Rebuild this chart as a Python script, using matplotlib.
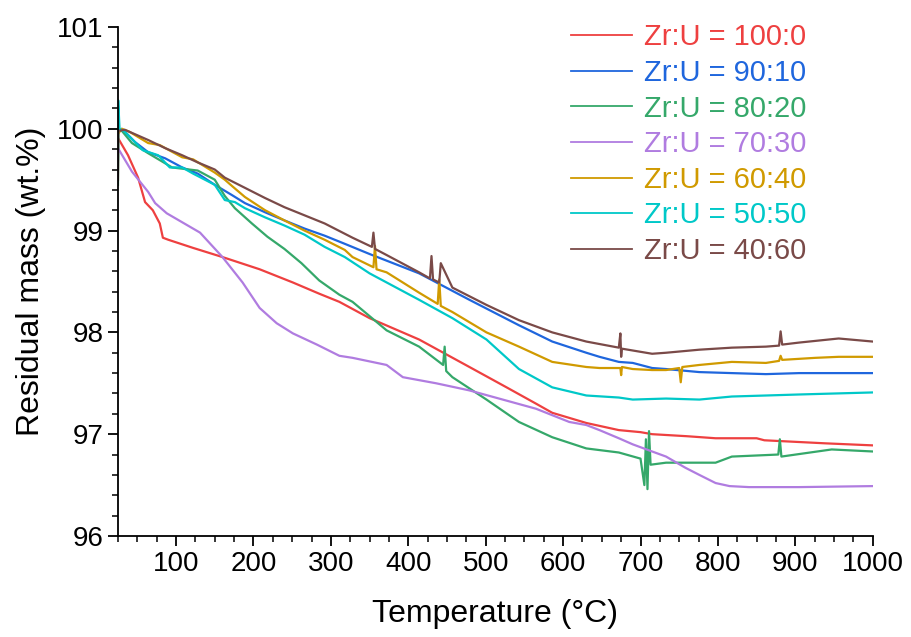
import matplotlib
matplotlib.use('Agg')
import matplotlib.pyplot as plt
from matplotlib.ticker import MultipleLocator

plt.rcParams['font.family'] = ['Liberation Sans', 'DejaVu Sans']

# values (temperature in degC, residual mass in wt.%)
t_100_0 = [25, 38, 51, 60, 70, 79, 83, 90, 122, 160, 208, 251, 285, 311, 350, 414, 479,
           527, 565, 586, 630, 672, 700, 715, 760, 797, 850, 860, 939, 1000]
m_100_0 = [99.91, 99.74, 99.52, 99.28, 99.20, 99.07, 98.93, 98.91, 98.83, 98.74, 98.62, 98.49,
           98.38, 98.30, 98.14, 97.93, 97.66, 97.46, 97.30, 97.21, 97.11, 97.04, 97.02, 97.00,
           96.98, 96.96, 96.96, 96.94, 96.91, 96.89]

t_90_10 = [25, 30, 47, 64, 86, 108, 128, 150, 172, 189, 215, 240, 266, 292, 318, 350, 414,
           479, 543, 586, 630, 647, 672, 690, 715, 733, 776, 818, 862, 905, 1000]
m_90_10 = [99.97, 100.0, 99.87, 99.77, 99.71, 99.62, 99.56, 99.45, 99.35, 99.27, 99.18, 99.10,
           99.02, 98.95, 98.87, 98.77, 98.58, 98.32, 98.07, 97.91, 97.80, 97.76, 97.71, 97.70,
           97.65, 97.64, 97.61, 97.60, 97.59, 97.60, 97.60]

t_80_20 = [25, 25.5, 30, 43, 64, 95, 128, 150, 163, 176, 198, 218, 240, 262, 285, 311, 328,
           372, 414, 445, 447, 449, 457, 501, 543, 586, 630, 672, 700, 705, 707, 709, 711, 713,
           733, 797, 818, 878, 880, 882, 947, 1000]
m_80_20 = [99.45, 99.98, 99.98, 99.86, 99.76, 99.62, 99.59, 99.50, 99.34, 99.22, 99.07, 98.94,
           98.82, 98.68, 98.51, 98.37, 98.30, 98.02, 97.86, 97.68, 97.86, 97.62, 97.56, 97.34,
           97.12, 96.97, 96.86, 96.82, 96.76, 96.50, 96.95, 96.46, 97.03, 96.70, 96.72, 96.72,
           96.78, 96.80, 96.95, 96.78, 96.85, 96.83]

t_70_30 = [25, 43, 64, 73, 88, 131, 160, 186, 208, 230, 251, 282, 311, 328, 372, 393, 436,
           479, 522, 565, 608, 630, 647, 672, 690, 715, 733, 758, 776, 797, 815, 840, 905, 1000]
m_70_30 = [99.81, 99.58, 99.38, 99.27, 99.17, 98.98, 98.74, 98.49, 98.24, 98.09, 97.99, 97.88,
           97.77, 97.75, 97.68, 97.56, 97.50, 97.43, 97.34, 97.25, 97.12, 97.09, 97.04, 96.96,
           96.90, 96.83, 96.78, 96.67, 96.60, 96.52, 96.49, 96.48, 96.48, 96.49]

t_60_40 = [25, 30, 40, 64, 79, 108, 122, 150, 163, 172, 189, 215, 240, 266, 292, 318, 328,
           355, 357, 359, 372, 414, 438, 440, 442, 457, 501, 543, 586, 630, 647, 672, 674, 675,
           676, 690, 715, 733, 750, 752, 754, 776, 818, 862, 879, 881, 883, 926, 956, 1000]
m_60_40 = [99.95, 100.0, 99.97, 99.86, 99.84, 99.72, 99.70, 99.57, 99.50, 99.44, 99.33, 99.20,
           99.10, 99.00, 98.91, 98.81, 98.74, 98.64, 98.85, 98.62, 98.59, 98.39, 98.28, 98.52,
           98.26, 98.20, 98.00, 97.86, 97.71, 97.66, 97.65, 97.65, 97.65, 97.58, 97.66, 97.64,
           97.63, 97.63, 97.65, 97.51, 97.66, 97.68, 97.71, 97.70, 97.72, 97.77, 97.73, 97.75,
           97.76, 97.76]

t_50_50 = [25, 25.3, 27, 34, 57, 77, 92, 108, 122, 150, 163, 176, 189, 215, 240, 266, 292,
           318, 350, 414, 457, 501, 543, 586, 630, 672, 690, 733, 776, 818, 862, 905, 1000]
m_50_50 = [99.70, 100.28, 100.0, 99.97, 99.79, 99.74, 99.62, 99.62, 99.56, 99.45, 99.30, 99.28,
           99.22, 99.13, 99.05, 98.96, 98.84, 98.74, 98.58, 98.32, 98.14, 97.93, 97.64, 97.46,
           97.38, 97.36, 97.34, 97.35, 97.34, 97.37, 97.38, 97.39, 97.41]

t_40_60 = [25, 25.5, 34, 64, 86, 108, 128, 150, 163, 189, 215, 240, 266, 292, 328, 353, 355,
           357, 372, 414, 428, 430, 432, 440, 442, 457, 501, 543, 586, 630, 672, 674, 675, 676,
           715, 733, 776, 818, 862, 879, 881, 883, 905, 956, 1000]
m_40_60 = [99.50, 99.98, 99.99, 99.89, 99.81, 99.74, 99.67, 99.60, 99.52, 99.42, 99.32, 99.23,
           99.15, 99.07, 98.93, 98.84, 98.98, 98.82, 98.76, 98.59, 98.53, 98.75, 98.52, 98.49,
           98.68, 98.44, 98.27, 98.12, 98.00, 97.91, 97.85, 97.99, 97.76, 97.84, 97.79, 97.80,
           97.83, 97.85, 97.86, 97.87, 98.01, 97.88, 97.90, 97.94, 97.91]

series = [
    ('Zr:U = 100:0', t_100_0, m_100_0, '#ee4040'),
    ('Zr:U = 90:10', t_90_10, m_90_10, '#1f66dd'),
    ('Zr:U = 80:20', t_80_20, m_80_20, '#35a86a'),
    ('Zr:U = 70:30', t_70_30, m_70_30, '#b07ce0'),
    ('Zr:U = 60:40', t_60_40, m_60_40, '#d09a00'),
    ('Zr:U = 50:50', t_50_50, m_50_50, '#00c8c8'),
    ('Zr:U = 40:60', t_40_60, m_40_60, '#7a4a48'),
]

fig = plt.figure(figsize=(9.11, 6.37), dpi=100)
ax = fig.add_axes([0.1295, 0.1586, 0.8285, 0.799])

for label, t, m, c in series:
    ax.plot(t, m, color=c, lw=1.6, label=label)

ax.set_xlim(25, 1000)
ax.set_ylim(96, 101)
ax.xaxis.set_major_locator(MultipleLocator(100))
ax.xaxis.set_minor_locator(MultipleLocator(25))
ax.yaxis.set_major_locator(MultipleLocator(1))
ax.yaxis.set_minor_locator(MultipleLocator(0.2))
ax.set_xticks(range(100, 1001, 100))

for s in ['top', 'right']:
    ax.spines[s].set_visible(False)
for s in ['left', 'bottom']:
    ax.spines[s].set_linewidth(1.3)
ax.tick_params(which='major', direction='out', length=7, width=1.3, labelsize=20)
ax.tick_params(which='minor', direction='out', length=4, width=1.1)

ax.set_xlabel('Temperature (°C)', fontsize=23, labelpad=16)
ax.set_ylabel('Residual mass (wt.%)', fontsize=23, labelpad=8)

leg = ax.legend(loc='upper left', bbox_to_anchor=(0.6, 1.007), frameon=False, fontsize=21,
                handlelength=2.1, handletextpad=0.4, labelspacing=0.26, borderaxespad=0,
                borderpad=0)
for txt, line in zip(leg.get_texts(), leg.get_lines()):
    txt.set_color(line.get_color())
    line.set_linewidth(1.3)

fig.savefig('out.png', dpi=100)
